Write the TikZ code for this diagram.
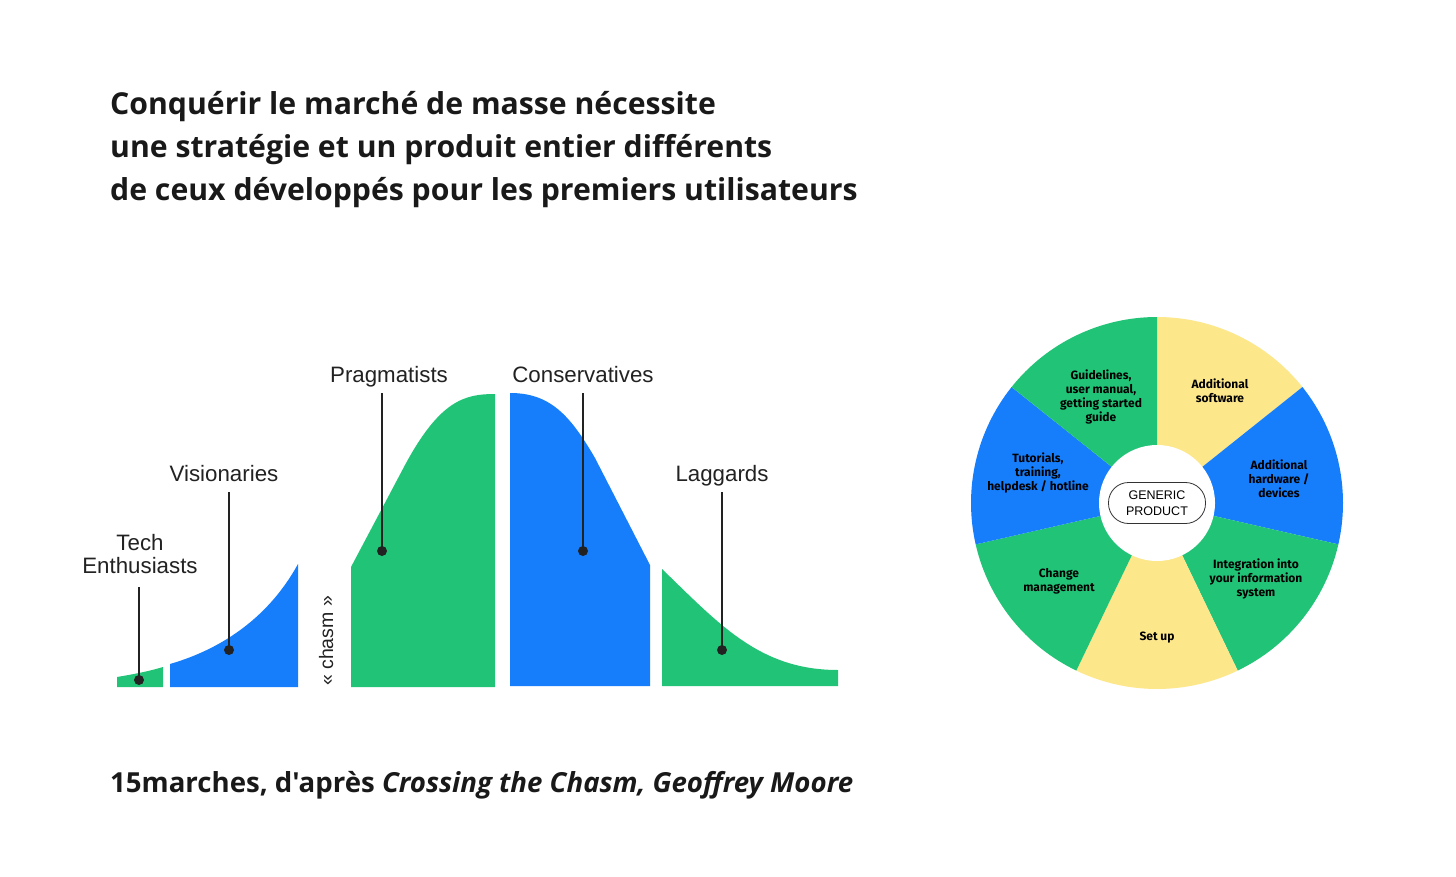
\documentclass[tikz,border=0pt]{standalone}
\usepackage{fontspec}
\setmainfont{Open Sans}
\newfontfamily\capfont{Open Sans}[Ligatures=TeXOff]
\newfontfamily\labfont{Liberation Sans}
\newfontfamily\wheelfont{Fira Sans}
\definecolor{cgreen}{HTML}{21C477}
\definecolor{cblue}{HTML}{177EFB}
\definecolor{cyel}{HTML}{FDE78B}
\definecolor{cdark}{HTML}{222222}
\tikzset{
  titletext/.style={anchor=base west, inner sep=0, text=black!90, font=\bfseries\fontsize{30.2}{43}\selectfont},
  lab/.style={font=\labfont\fontsize{22.3}{23}\selectfont, text=cdark, inner sep=0, anchor=base},
  wtext/.style={font=\wheelfont\bfseries\fontsize{12}{14}\selectfont, align=center, inner sep=0, text=black},
  leader/.style={draw=cdark, line width=1.4pt},
  leaderdot/.style={circle, fill=cdark, inner sep=0, minimum size=10pt},
}
\begin{document}
\begin{tikzpicture}[x=1pt,y=-1pt]
\useasboundingbox[fill=white] (0,0) rectangle (1456,877);

% title
\node[titletext] (t1) at (110,115) {Conquérir le marché de masse nécessite};
\node[titletext] (t2) at (110,158) {une stratégie et un produit entier différents};
\node[titletext] (t3) at (110,201) {de ceux développés pour les premiers utilisateurs};

% caption
\node[titletext, font=\capfont\bfseries\fontsize{27.6}{43}\selectfont] (cap) at (110,792) {15marches, d'après \textit{Crossing the Chasm, Geoffrey Moore}};

% curve segments
\fill[cgreen] (117,687) -- (117,677) .. controls (135,674) and (150,671) .. (163,667) -- (163,687) -- cycle;
\fill[cblue] (170,687) -- (170,664) .. controls (225,648) and (270,615) .. (298,564) -- (298,687) -- cycle;
\fill[cgreen] (351,687) -- (351,567) -- (405,465) .. controls (440,400) and (465,394) .. (495,394) -- (495,687) -- cycle;
\fill[cblue] (510,686) -- (510,393) .. controls (550,393) and (570,415) .. (595,458) -- (650,565) -- (650,686) -- cycle;
\fill[cgreen] (662,686) -- (662,569) .. controls (720,625) and (760,670) .. (838,670) -- (838,686) -- cycle;

% chasm
\node[lab, font=\labfont\fontsize{19.5}{21}\selectfont, rotate=90] (chasm) at (333,641) {« chasm »};

% labels
\node[lab, align=center] (te) at (140,573) {Tech\\Enthusiasts};
\node[lab] (vi) at (224,481) {Visionaries};
\node[lab] (pr) at (389,382) {Pragmatists};
\node[lab] (co) at (583,382) {Conservatives};
\node[lab] (la) at (722,481) {Laggards};

\coordinate (teTop) at (139,587);
\coordinate (viTop) at (229,492);
\coordinate (prTop) at (382,393);
\coordinate (coTop) at (583,393);
\coordinate (laTop) at (722,492);
\node[leaderdot] (teDot) at (139,680) {};
\node[leaderdot] (viDot) at (229,650) {};
\node[leaderdot] (prDot) at (382,551) {};
\node[leaderdot] (coDot) at (583,551) {};
\node[leaderdot] (laDot) at (722,650) {};
\draw[leader] (teTop) -- (teDot.center);
\draw[leader] (viTop) -- (viDot.center);
\draw[leader] (prTop) -- (prDot.center);
\draw[leader] (coTop) -- (coDot.center);
\draw[leader] (laTop) -- (laDot.center);

% wheel
\begin{scope}[shift={(1157,503)}]
  \fill[cyel]   (0,0) -- (90:186pt)      arc[start angle=90,      end angle=38.571,   radius=186pt] -- cycle;
  \fill[cblue]  (0,0) -- (38.571:186pt)  arc[start angle=38.571,  end angle=-12.857,  radius=186pt] -- cycle;
  \fill[cgreen] (0,0) -- (-12.857:186pt) arc[start angle=-12.857, end angle=-64.286,  radius=186pt] -- cycle;
  \fill[cyel]   (0,0) -- (-64.286:186pt) arc[start angle=-64.286, end angle=-115.714, radius=186pt] -- cycle;
  \fill[cgreen] (0,0) -- (-115.714:186pt) arc[start angle=-115.714, end angle=-167.143, radius=186pt] -- cycle;
  \fill[cblue]  (0,0) -- (-167.143:186pt) arc[start angle=-167.143, end angle=-218.571, radius=186pt] -- cycle;
  \fill[cgreen] (0,0) -- (141.429:186pt) arc[start angle=141.429, end angle=90, radius=186pt] -- cycle;
  \fill[white] (0,0) circle[radius=58pt];
\end{scope}
\node[draw=black!80, line width=0.8pt, rounded corners=20pt, minimum width=97pt, minimum height=41pt, inner sep=0,
      align=center, font=\labfont\fontsize{12.5}{16}\selectfont] (gp) at (1157,503) {GENERIC\\PRODUCT};

\node[wtext] (w1) at (1220,391) {Additional\\software};
\node[wtext] (w2) at (1279,479) {Additional\\hardware /\\devices};
\node[wtext] (w3) at (1256,579) {Integration into\\your information\\system};
\node[wtext] (w4) at (1157,638) {Set up};
\node[wtext] (w5) at (1059,581) {Change\\management};
\node[wtext] (w6) at (1038,473) {Tutorials,\\training,\\helpdesk / hotline};
\node[wtext] (w7) at (1101,397) {Guidelines,\\user manual,\\getting started\\guide};
\end{tikzpicture}
\end{document}
